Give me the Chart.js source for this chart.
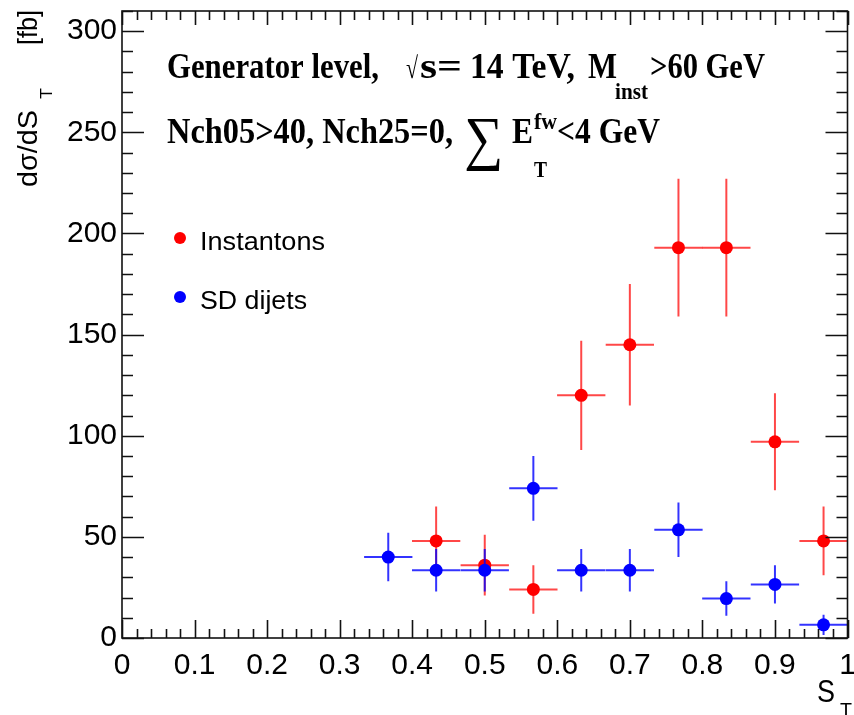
<!DOCTYPE html>
<html lang="en">
<head>
  <meta charset="UTF-8">
  <title>dsigma/dS_T</title>
  <script src="https://cdn.jsdelivr.net/npm/chart.js"></script>
  <style>
    body { margin: 0; background: #fff; }
    canvas { display: block; }
  </style>
</head>
<body>
  <canvas id="myChart" width="854" height="715"></canvas>

  <script>
    // bin centres in S_T (bins of width 1/15)
    const instX = [0.433, 0.5, 0.567, 0.633, 0.7, 0.767, 0.833, 0.9, 0.967];
    const instY = [48, 36, 24, 120, 145, 193, 193, 97, 48];
    const instErr = [17, 15, 12, 27, 30, 34, 34, 24, 17];

    const sdX = [0.367, 0.433, 0.5, 0.567, 0.633, 0.7, 0.767, 0.833, 0.9, 0.967];
    const sdY = [40, 33.5, 33.5, 74, 33.5, 33.5, 53.5, 19.5, 26.5, 6.5];
    const sdErr = [12, 10.5, 10.5, 16, 10.5, 10.5, 13.5, 8.5, 9.5, 5];

    const binHalf = 0.0333;

    const xTicks = [0, 0.1, 0.2, 0.3, 0.4, 0.5, 0.6, 0.7, 0.8, 0.9, 1];
    const yTicks = [0, 50, 100, 150, 200, 250, 300];

    const toPoints = (xs, ys) => xs.map((x, i) => ({ x: x, y: ys[i] }));

    // text squeezed/stretched to a given width
    function txt(ctx, s, x, y, font, w) {
      ctx.font = font;
      const m = ctx.measureText(s).width;
      ctx.save();
      ctx.translate(x, y);
      if (w) ctx.scale(w / m, 1);
      ctx.fillText(s, 0, 0);
      ctx.restore();
    }

    // error bars, drawn just before each dataset's markers
    const errorBars = {
      id: 'errorBars',
      beforeDatasetDraw(chart, args) {
        const ds = chart.data.datasets[args.index];
        const ctx = chart.ctx, xs = chart.scales.x, ys = chart.scales.y;
        const a = chart.chartArea;
        ctx.save();
        ctx.beginPath();
        ctx.rect(a.left, a.top, a.right - a.left, a.bottom - a.top);
        ctx.clip();
        ctx.strokeStyle = ds.barColor;
        ctx.lineWidth = 2;
        ds.data.forEach((p, i) => {
          const px = xs.getPixelForValue(p.x), py = ys.getPixelForValue(p.y);
          ctx.beginPath();
          ctx.moveTo(xs.getPixelForValue(p.x - binHalf), py);
          ctx.lineTo(xs.getPixelForValue(p.x + binHalf), py);
          ctx.moveTo(px, ys.getPixelForValue(p.y - ds.err[i]));
          ctx.lineTo(px, ys.getPixelForValue(p.y + ds.err[i]));
          ctx.stroke();
        });
        ctx.restore();
      }
    };

    // ROOT style frame with inward ticks, texts and legend
    const decor = {
      id: 'decor',
      afterDraw(chart) {
        const ctx = chart.ctx, xs = chart.scales.x, ys = chart.scales.y;
        const a = chart.chartArea;
        ctx.save();
        ctx.strokeStyle = '#111';
        ctx.lineWidth = 1.6;
        ctx.strokeRect(a.left, a.top, a.right - a.left, a.bottom - a.top);
        ctx.beginPath();
        for (let k = 0; k <= 50; k++) {
          const v = k / 50;
          const px = Math.round(xs.getPixelForValue(v)) + 0.5;
          const len = k % 5 === 0 ? 18 : 9;
          const tl = k % 5 === 0 ? 14 : 9;
          ctx.moveTo(px, a.bottom); ctx.lineTo(px, a.bottom - len);
          ctx.moveTo(px, a.top); ctx.lineTo(px, a.top + tl);
        }
        for (let v = 0; v <= 310; v += 10) {
          const py = Math.round(ys.getPixelForValue(v)) + 0.5;
          const len = v % 50 === 0 ? 22 : 11;
          ctx.moveTo(a.left, py); ctx.lineTo(a.left + len, py);
          ctx.moveTo(a.right, py); ctx.lineTo(a.right - len, py);
        }
        ctx.stroke();

        ctx.fillStyle = '#000';
        ctx.textBaseline = 'alphabetic';
        ctx.textAlign = 'left';
        const serif = '"Liberation Serif", "Times New Roman", serif';
        const big = 'bold 35px ' + serif, small = 'bold 23px ' + serif;
        txt(ctx, 'Generator level,', 167, 78, big, 212);
        txt(ctx, '\u221A', 406, 78, '30px ' + serif, 12);
        txt(ctx, 's=', 420, 78, big, 42);
        txt(ctx, '14 TeV,', 470, 78, big, 105);
        txt(ctx, 'M', 588, 78, big, 29);
        txt(ctx, 'inst', 615, 99, small, 33);
        txt(ctx, '>60 GeV', 650, 78, big, 115);

        txt(ctx, 'Nch05>40, Nch25=0,', 167, 143, big, 286);
        txt(ctx, '\u2211', 464, 158, '60px ' + serif, 39);
        txt(ctx, 'E', 512, 143, big, 21);
        txt(ctx, 'fw', 534, 129, small, 23);
        txt(ctx, 'T', 534, 177, small, 13);
        txt(ctx, '<4 GeV', 557, 143, big, 103);

        // legend
        const sans = '"Liberation Sans", Arial, sans-serif';
        const leg = [['Instantons', '#ff0000', 238, 125], ['SD dijets', '#0000ff', 297, 107]];
        leg.forEach(([label, col, y, w]) => {
          ctx.fillStyle = col;
          ctx.beginPath();
          ctx.arc(180, y, 6, 0, Math.PI * 2);
          ctx.fill();
          ctx.fillStyle = '#000';
          txt(ctx, label, 200, y + 12, '26px ' + sans, w);
        });

        // axis titles
        ctx.save();
        ctx.translate(37, 187);
        ctx.rotate(-Math.PI / 2);
        txt(ctx, 'd\u03C3/dS', 0, 0, '28px ' + sans, 77);
        txt(ctx, 'T', 88, 15, '17px ' + sans, 11);
        txt(ctx, '[fb]', 142, 0, '28px ' + sans, 35);
        ctx.restore();

        txt(ctx, 'S', 817, 702, '31px ' + sans, 18);
        txt(ctx, 'T', 840, 716, '19px ' + sans, 12);
        ctx.restore();
      }
    };

    const ctx = document.getElementById('myChart').getContext('2d');
    new Chart(ctx, {
      type: 'scatter',
      data: {
        datasets: [{
          label: 'Instantons',
          data: toPoints(instX, instY),
          err: instErr,
          barColor: 'rgba(255,0,0,0.72)',
          backgroundColor: '#ff0000',
          pointRadius: 6.5,
          pointHoverRadius: 6.5,
          pointBorderWidth: 0,
          order: 2
        }, {
          label: 'SD dijets',
          data: toPoints(sdX, sdY),
          err: sdErr,
          barColor: 'rgba(0,0,255,0.8)',
          backgroundColor: '#0000ff',
          pointRadius: 6.5,
          pointHoverRadius: 6.5,
          pointBorderWidth: 0,
          order: 1
        }]
      },
      options: {
        responsive: false,
        animation: false,
        events: [],
        layout: { padding: { top: 11, right: 2, left: 0, bottom: 0 } },
        plugins: { legend: { display: false }, tooltip: { enabled: false } },
        scales: {
          x: {
            type: 'linear',
            min: 0,
            max: 1,
            grid: { display: false, drawTicks: false },
            border: { display: false },
            afterBuildTicks: s => { s.ticks = xTicks.map(v => ({ value: v })); },
            afterFit: s => { s.height = 77; s.paddingLeft = 0; s.paddingRight = 0; },
            ticks: {
              autoSkip: false,
              maxRotation: 0,
              padding: 10,
              color: '#000',
              font: { family: '"Liberation Sans", Arial, sans-serif', size: 30 },
              callback: v => String(+v.toFixed(1))
            }
          },
          y: {
            min: 0,
            max: 310,
            grid: { display: false, drawTicks: false },
            border: { display: false },
            afterBuildTicks: s => { s.ticks = yTicks.map(v => ({ value: v })); },
            afterFit: s => { s.width = 122; s.paddingTop = 0; s.paddingBottom = 0; },
            ticks: {
              padding: 5,
              color: '#000',
              font: { family: '"Liberation Sans", Arial, sans-serif', size: 30 },
              callback: v => String(v)
            }
          }
        }
      },
      plugins: [errorBars, decor]
    });
  </script>
</body>
</html>
